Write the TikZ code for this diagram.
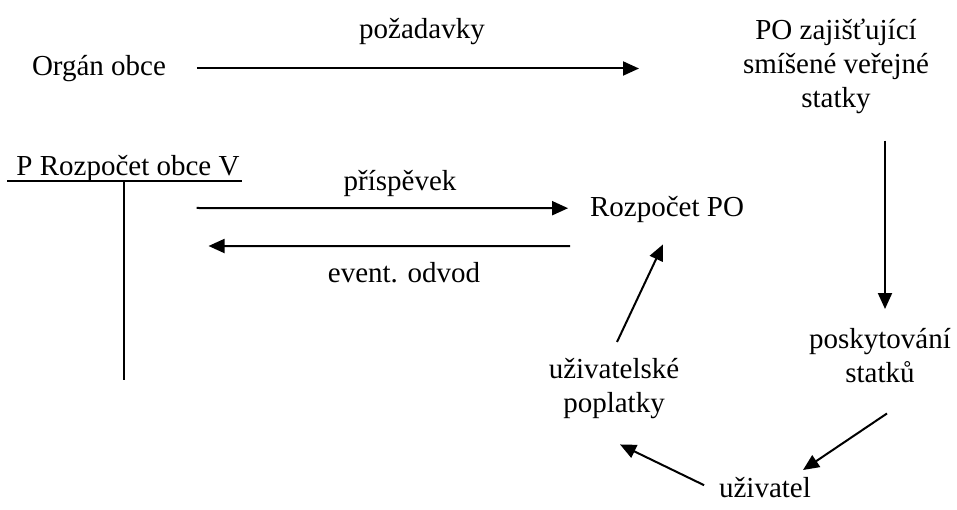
\documentclass[tikz,border=0pt]{standalone}
\usepackage{fontspec}
\setmainfont{Liberation Serif}
\usetikzlibrary{arrows.meta,calc}

\begin{document}
\begin{tikzpicture}[
        x=1pt, y=-1pt,
        every node/.style={inner sep=0pt, outer sep=0pt, font=\fontsize{29}{34}\selectfont},
        txt/.style={text height=20pt, text depth=6.4pt},
        multi/.style={align=center},
        line/.style={line width=2pt},
        arr/.style={line, -{Triangle[length=16pt,width=14pt]}}
    ]
    \useasboundingbox (0,0) rectangle (957,510);

    % top row
    \node[txt] (organ) at (99,68.5) {Orgán obce};
    \node[anchor=base] (pozad) at (422,39) {požadavky};
    \node[multi, anchor=north] (po) at (836,19) {PO zajišťující\\smíšené veřejné\\statky};

    % budget of the municipality
    \node[anchor=base] (rozobce) at (128,176) {P Rozpočet obce V};
    \node[anchor=base] (prisp) at (400,191) {příspěvek};
    \node[txt, anchor=base] (rozpo) at (667,217) {Rozpočet PO};
    \node[anchor=base] (odvod) at (404,283) {event. odvod};

    % right side
    \node[multi, anchor=north] (posk) at (880,328) {poskytování\\statků};
    \node[txt, anchor=base] (uziv) at (765,497) {uživatel};
    \node[multi, anchor=north] (uzpop) at (614,358) {uživatelské\\poplatky};

    \draw[line] ($(rozobce.base west)+(-9,5)$) -- ($(rozobce.base east)+(2,5)$);
    \draw[line] ($(rozobce.base)+(-4,5)$) -- ++(0,199);

    \draw[arr, shorten <=31pt, shorten >=104pt] (organ.east) -- (organ.east -| po.west);
    \draw[arr] ($(po.south)+(49,27)$) -- ($(posk.north)+(5,-19)$);
    \draw[arr] ($(rozobce.base east)+(-43,32)$) -- ($(rozpo.west)+(-22,-2)$);
    \draw[arr] ($(rozpo.west)+(-20,36)$) -- ($(rozobce.base east)+(-31,70)$);
    \draw[arr] ($(posk.south)+(7,31)$) -- ($(uziv.north)+(38,-7)$);
    \draw[arr] ($(uziv.west)+(-15,-5)$) -- ($(uzpop.south)+(6,26)$);
    \draw[arr] ($(uzpop.north)+(3,-16)$) -- ($(rozpo.south)+(-4,21)$);
\end{tikzpicture}
\end{document}
